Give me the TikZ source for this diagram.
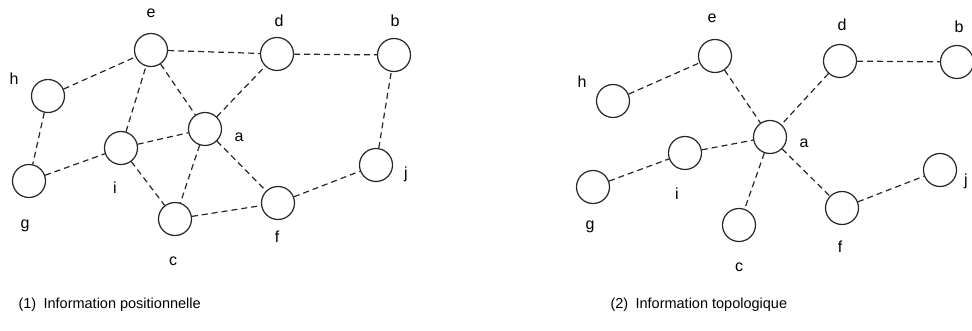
\documentclass[tikz,border=0pt]{standalone}
\usepackage{fontspec}
\setmainfont{Liberation Sans}
\usepackage{tikz}
\usetikzlibrary{positioning}

\tikzset{
  vertex/.style={draw, circle, minimum size=33pt, inner sep=0pt},
  link/.style={dash pattern=on 6pt off 4pt},
  tag/.style={inner sep=0pt, font=\fontsize{16}{16}\selectfont},
  caption/.style={anchor=west, inner sep=0pt, font=\fontsize{14.5}{14.5}\selectfont}
}

\begin{document}
\begin{tikzpicture}[x=1pt, y=-1pt, line width=1.2pt, draw=black!85]

  \useasboundingbox (0,0) rectangle (972,331);

  % (1) positional graph
  \node[vertex] (e1) at (151,50)  {};
  \node[vertex] (d1) at (277,54)  {};
  \node[vertex] (b1) at (394,55)  {};
  \node[vertex] (h1) at (48,96)   {};
  \node[vertex] (a1) at (205,129) {};
  \node[vertex] (i1) at (121,148) {};
  \node[vertex] (g1) at (29,181)  {};
  \node[vertex] (j1) at (376,165) {};
  \node[vertex] (f1) at (278,203) {};
  \node[vertex] (c1) at (175,219) {};

  \node[tag] (le1) at (151,13)  {e};
  \node[tag] (ld1) at (279,21)  {d};
  \node[tag] (lb1) at (395,21)  {b};
  \node[tag] (lh1) at (14,79)   {h};
  \node[tag] (la1) at (239,137) {a};
  \node[tag] (li1) at (115,188) {i};
  \node[tag] (lg1) at (25,226)  {g};
  \node[tag] (lj1) at (406,174) {j};
  \node[tag] (lf1) at (277,237) {f};
  \node[tag] (lc1) at (173,261) {c};

  \foreach \u/\v in {e1/d1, d1/b1, h1/e1, h1/g1, g1/i1, i1/e1, i1/a1, i1/c1,
                     e1/a1, a1/d1, a1/c1, a1/f1, c1/f1, f1/j1, j1/b1}
    \draw[link] (\u) -- (\v);

  % (2) topological graph
  \node[vertex] (e2) at (715,56)  {};
  \node[vertex] (d2) at (840,61)  {};
  \node[vertex] (b2) at (957,62)  {};
  \node[vertex] (h2) at (613,101) {};
  \node[vertex] (a2) at (770,137) {};
  \node[vertex] (i2) at (685,153) {};
  \node[vertex] (g2) at (593,187) {};
  \node[vertex] (j2) at (940,170) {};
  \node[vertex] (f2) at (842,208) {};
  \node[vertex] (c2) at (739,225) {};

  \node[tag] (le2) at (712,18)  {e};
  \node[tag] (ld2) at (842,25)  {d};
  \node[tag] (lb2) at (959,27)  {b};
  \node[tag] (lh2) at (582,82)  {h};
  \node[tag] (la2) at (804,143) {a};
  \node[tag] (li2) at (677,194) {i};
  \node[tag] (lg2) at (590,227) {g};
  \node[tag] (lj2) at (966,181) {j};
  \node[tag] (lf2) at (840,247) {f};
  \node[tag] (lc2) at (739,267) {c};

  \foreach \u/\v in {h2/e2, e2/a2, d2/a2, d2/b2, i2/a2, g2/i2, a2/c2, a2/f2, f2/j2}
    \draw[link] (\u) -- (\v);

  % captions
  \node[caption] (cap1) at (18,305)  {(1)\enspace Information positionnelle};
  \node[caption] (cap2) at (610,305) {(2)\enspace Information topologique};

\end{tikzpicture}
\end{document}
